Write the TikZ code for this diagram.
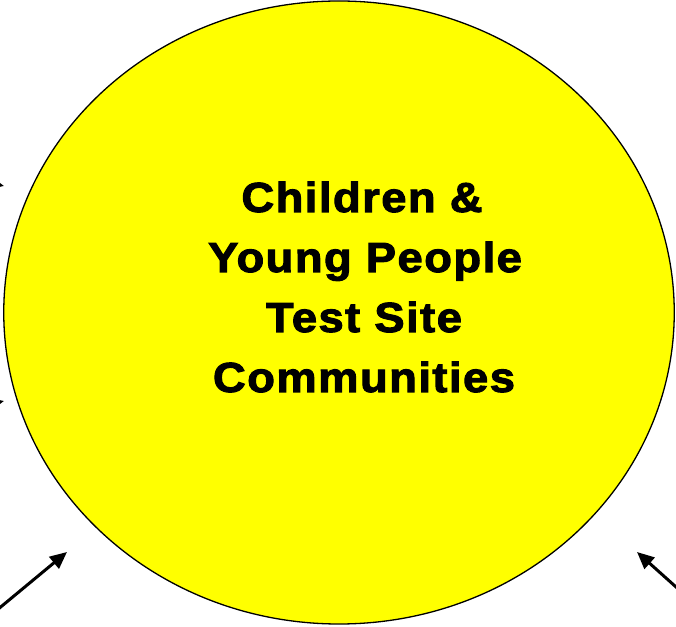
\documentclass[tikz,border=0pt]{standalone}
\usepackage{fontspec}
\setmainfont{Liberation Sans}
\newfontfamily\labelfont[LetterSpace=3.5,FakeBold=2.4,FakeStretch=1.08]{Liberation Sans}
\usetikzlibrary{arrows.meta,shapes.geometric}
\tikzset{
  bubble/.style={ellipse,draw=black,line width=1.3pt,fill={rgb,255:red,255;green,255;blue,0},minimum width=670.5pt,minimum height=623pt,inner sep=0pt},
  linetext/.style={anchor=base,inner sep=0pt,font=\labelfont\bfseries\fontsize{42}{60}\selectfont},
  pointer/.style={line width=3pt,-{Triangle[length=17pt,width=15pt]}}
}
\begin{document}
\begin{tikzpicture}[x=1pt,y=1pt]
\useasboundingbox (0,0) rectangle (676,626);
\clip (0,0) rectangle (676,626);
\node[bubble] (circ) at (339,313.5) {};
\node[linetext] (l1) at (362,414) {Children \&};
\node[linetext] (l2) at (365,354) {Young People};
\node[linetext] (l3) at (364,294) {Test Site};
\node[linetext] (l4) at (364,234) {Communities};
\coordinate (s1) at (-15,6);
\coordinate (t1) at (67,74);
\coordinate (s2) at (695,22);
\coordinate (t2) at (637,74);
\coordinate (s3) at (-50,452);
\coordinate (t3) at (4,440);
\coordinate (s4) at (-50,213);
\coordinate (t4) at (4,225);
\draw[pointer] (s1) -- (t1);
\draw[pointer] (s2) -- (t2);
\draw[pointer] (s3) -- (t3);
\draw[pointer] (s4) -- (t4);
\end{tikzpicture}
\end{document}
